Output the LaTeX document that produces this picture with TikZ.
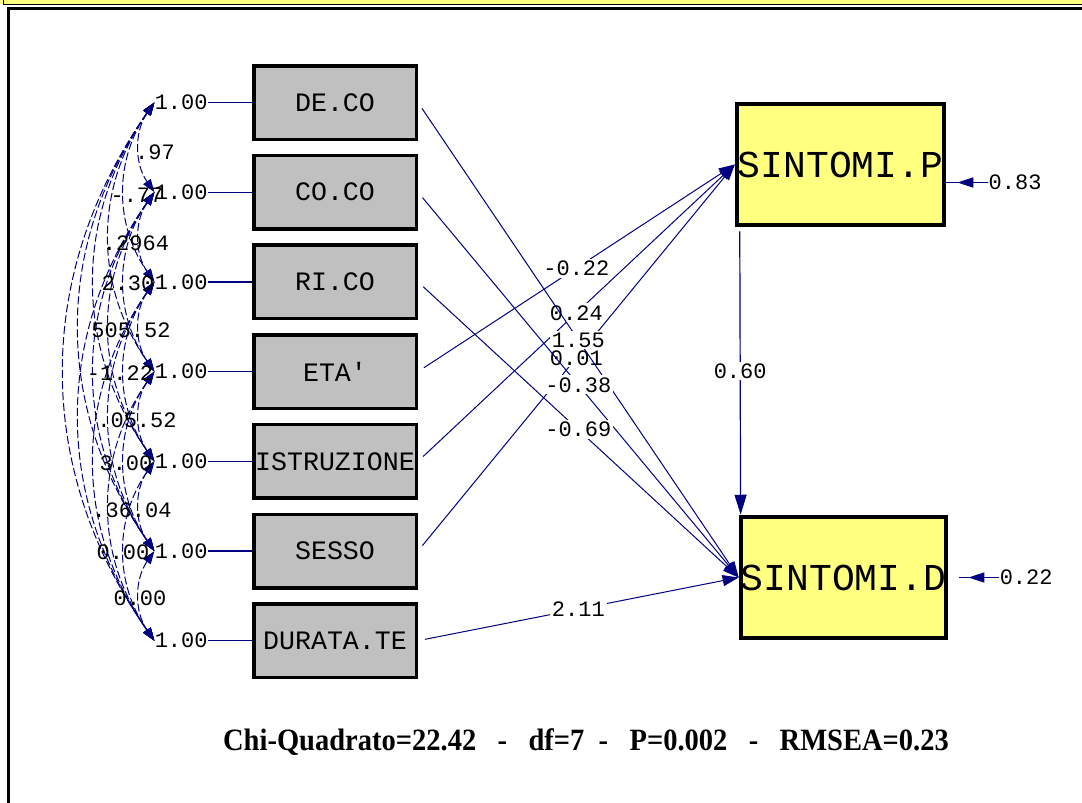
\documentclass[tikz,border=0pt]{standalone}
\usepackage{fontspec}
\setmainfont{Liberation Serif}
\setmonofont{Liberation Mono}
\usetikzlibrary{arrows.meta,positioning}
\definecolor{lisrelnavy}{RGB}{0,0,128}
\definecolor{boxgrey}{RGB}{192,192,192}
\definecolor{boxyellow}{RGB}{255,255,128}
\tikzset{
  obsbox/.style={
    rectangle,draw=black,line width=1.75pt,fill=boxgrey,
    minimum width=81.25pt,minimum height=36.75pt,inner sep=0pt,
    font=\ttfamily\fontsize{13.3}{14}\selectfont
  },
  endobox/.style={
    rectangle,draw=black,line width=2.25pt,fill=boxyellow,
    minimum height=60.5pt,inner sep=0pt,
    font=\ttfamily\fontsize{19}{20}\selectfont
  },
  numlbl/.style={font=\ttfamily\fontsize{11}{11}\selectfont,inner sep=0pt,text=black},
  coeflbl/.style={numlbl,fill=white,inner sep=1pt},
  regline/.style={
    lisrelnavy,line width=0.5pt,shorten <=3.5pt,
    -{Triangle[length=8pt,width=5.5pt]}
  },
  covline/.style={
    lisrelnavy,line width=0.5pt,dash pattern=on 4pt off 1.5pt,
    {Triangle[length=6.5pt,width=4.5pt]}-{Triangle[length=6.5pt,width=4.5pt]}
  },
  varline/.style={lisrelnavy,line width=0.6pt},
  errtip/.style={lisrelnavy,line width=0.6pt,-{Triangle[length=8pt,width=5pt]}}
}

\begin{document}
\begin{tikzpicture}[x=0.5pt,y=-0.5pt,node distance=6.35pt]
    \useasboundingbox (0,0) rectangle (1082,803);
    \clip (0,0) rectangle (1082,803);
    \fill[white] (0,0) rectangle (1082,803);
    % window frame
    \fill[boxyellow] (0,0) rectangle (1082,3.5);
    \draw[line width=0.8pt] (3.5,-5) |- (1090,4.3);
    \draw[line width=1.5pt] (8.5,810) |- (1090,8.8);

    \node[obsbox] (deco) at (335,102.5) {DE.CO};
    \node[obsbox,below=of deco] (coco) {CO.CO};
    \node[obsbox,below=of coco] (rico) {RI.CO};
    \node[obsbox,below=of rico] (eta) {ETA'};
    \node[obsbox,below=of eta] (istr) {ISTRUZIONE};
    \node[obsbox,below=of istr] (sesso) {SESSO};
    \node[obsbox,below=of sesso] (durata) {DURATA.TE};

    \node[endobox,minimum width=103.5pt] (sintp) at (840.5,164.5) {SINTOMI.P};
    \node[endobox,minimum width=101.5pt] (sintd) at (843.5,577.5) {SINTOMI.D};

    % variances
    \node[numlbl,left=22pt of deco] (vdeco) {1.00};
    \node[numlbl,left=22pt of coco] (vcoco) {1.00};
    \node[numlbl,left=22pt of rico] (vrico) {1.00};
    \node[numlbl,left=22pt of eta] (veta) {1.00};
    \node[numlbl,left=22pt of istr] (vistr) {1.00};
    \node[numlbl,left=22pt of sesso] (vsesso) {1.00};
    \node[numlbl,left=22pt of durata] (vdurata) {1.00};
    \draw[varline] (vdeco) -- (deco);
    \draw[varline] (vcoco) -- (coco);
    \draw[varline] (vrico) -- (rico);
    \draw[varline] (veta) -- (eta);
    \draw[varline] (vistr) -- (istr);
    \draw[varline] (vsesso) -- (sesso);
    \draw[varline] (vdurata) -- (durata);

    % covariances
    \draw[covline] (vdeco.west) to[bend right=35] (vcoco.west);
    \draw[covline] (vdeco.west) to[bend right=35] (vrico.west);
    \draw[covline] (vdeco.west) to[bend right=35] (veta.west);
    \draw[covline] (vdeco.west) to[bend right=35] (vistr.west);
    \draw[covline] (vdeco.west) to[bend right=35] (vsesso.west);
    \draw[covline] (vdeco.west) to[bend right=35] (vdurata.west);
    \draw[covline] (vcoco.west) to[bend right=35] (vrico.west);
    \draw[covline] (vcoco.west) to[bend right=35] (veta.west);
    \draw[covline] (vcoco.west) to[bend right=35] (vistr.west);
    \draw[covline] (vcoco.west) to[bend right=35] (vsesso.west);
    \draw[covline] (vcoco.west) to[bend right=35] (vdurata.west);
    \draw[covline] (vrico.west) to[bend right=35] (veta.west);
    \draw[covline] (vrico.west) to[bend right=35] (vistr.west);
    \draw[covline] (vrico.west) to[bend right=35] (vsesso.west);
    \draw[covline] (vrico.west) to[bend right=35] (vdurata.west);
    \draw[covline] (veta.west) to[bend right=35] (vistr.west);
    \draw[covline] (veta.west) to[bend right=35] (vsesso.west);
    \draw[covline] (veta.west) to[bend right=35] (vdurata.west);
    \draw[covline] (vistr.west) to[bend right=35] (vsesso.west);
    \draw[covline] (vistr.west) to[bend right=35] (vdurata.west);
    \draw[covline] (vsesso.west) to[bend right=35] (vdurata.west);

    \node[numlbl] (c1) at (155,152) {.97};
    \node[numlbl] (c2) at (137,195) {-.77};
    \node[numlbl] (c3) at (136,243) {.2964};
    \node[numlbl] (c4) at (128,283) {2.30};
    \node[numlbl] (c5) at (131,330) {505.52};
    \node[numlbl] (c6) at (120,373) {-1.22};
    \node[numlbl] (c7) at (137,420) {.05.52};
    \node[numlbl] (c8) at (126,463) {3.00};
    \node[numlbl] (c9) at (132,510) {.36.04};
    \node[numlbl] (c10) at (123,552) {0.00};
    \node[numlbl] (c11) at (140,598) {0.00};

    % structural paths
    \draw[regline] (eta.east) -- node[coeflbl] {-0.22} (sintp.west);
    \draw[regline] (istr.east) -- node[coeflbl] {0.24} (sintp.west);
    \draw[regline] (sesso.east) -- node[coeflbl] {0.01} (sintp.west);
    \draw[regline] (deco.east) -- node[coeflbl] {1.55} (sintd.west);
    \draw[regline] (coco.east) -- node[coeflbl] {-0.38} (sintd.west);
    \draw[regline] (rico.east) -- node[coeflbl] {-0.69} (sintd.west);
    \draw[regline] (durata.east) -- node[coeflbl] {2.11} (sintd.west);
    \draw[lisrelnavy,line width=0.6pt,shorten <=2pt,
      -{Triangle[length=10pt,width=6pt]}]
      ([xshift=2.5pt]sintp.south west) -- node[coeflbl] {0.60}
      ([xshift=1pt]sintd.north west);

    % errors
    \node[numlbl,right=21pt of sintp,yshift=-9pt] (esintp) {0.83};
    \node[numlbl,right=25.5pt of sintd] (esintd) {0.22};
    \draw[varline] (esintp.west) -- (esintp.west -| sintp.east);
    \draw[errtip,shorten >=5.5pt] (esintp.west) -- (esintp.west -| sintp.east);
    \draw[varline,shorten >=5.5pt] (esintd.west) -- (esintd.west -| sintd.east);
    \draw[errtip,shorten >=10pt] (esintd.west) -- (esintd.west -| sintd.east);

    \node[font=\bfseries\fontsize{15.5}{18}\selectfont] (fitstats) at (586,742)
      {\scalebox{0.92}[1]{Chi-Quadrato=22.42\enskip\ -\enskip\ df=7\enskip -\enskip\ P=0.002\enskip\ -\enskip\ RMSEA=0.23}};
  \end{tikzpicture}
\end{document}
